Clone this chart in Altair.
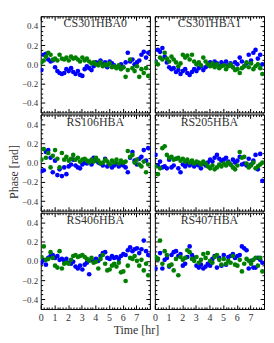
import altair as alt
import pandas as pd

# ---------------- data ----------------
TIME = [0.05, 0.22, 0.38, 0.55, 0.72, 0.88, 1.05, 1.22, 1.38, 1.55, 1.72, 1.88,
        2.05, 2.22, 2.38, 2.55, 2.72, 2.88, 3.05, 3.22, 3.38, 3.55, 3.72, 3.88,
        4.05, 4.22, 4.38, 4.55, 4.72, 4.88, 5.05, 5.22, 5.38, 5.55, 5.72, 5.88,
        6.05, 6.22, 6.38, 6.55, 6.72, 6.88, 7.05, 7.22, 7.38, 7.55, 7.72, 7.88]

STATIONS = ["CS301HBA0", "CS301HBA1", "RS106HBA", "RS205HBA", "RS406HBA", "RS407HBA"]

BLUE_CS301HBA0 = [-0.06, 0.10, 0.11, 0.05, 0.03, 0.04, -0.03, -0.07, -0.09, -0.10,
                  -0.09, -0.05, -0.07, -0.04, -0.08, -0.10, -0.07, -0.11, -0.12, -0.05,
                  -0.02, -0.04, -0.06, -0.02, 0.02, 0.01, 0.04, 0.00, 0.02, -0.03,
                  0.03, 0.01, -0.01, -0.03, -0.02, 0.00, -0.03, 0.02, 0.12, 0.03,
                  0.05, 0.00, 0.02, 0.04, 0.10, 0.13, 0.07, 0.12]
GREEN_CS301HBA0 = [0.02, 0.04, 0.08, 0.12, 0.10, 0.05, 0.06, 0.04, 0.10, 0.06,
                   0.05, 0.07, 0.04, 0.08, 0.06, 0.07, 0.05, 0.03, 0.07, 0.04,
                   0.06, 0.03, 0.01, 0.02, 0.00, -0.01, 0.02, -0.02, 0.00, -0.01,
                   0.01, -0.03, -0.02, -0.04, -0.01, -0.05, -0.03, -0.13, -0.06, 0.05,
                   -0.04, -0.07, -0.02, -0.13, -0.05, -0.09, -0.04, -0.12]

BLUE_CS301HBA1 = [0.03, 0.15, 0.13, 0.17, 0.08, 0.02, -0.03, -0.05, -0.04, -0.08,
                  -0.06, -0.10, -0.07, -0.05, -0.09, -0.11, -0.08, -0.05, -0.07, -0.04,
                  -0.02, -0.06, -0.03, -0.01, 0.02, 0.00, 0.03, 0.01, -0.02, 0.02,
                  0.00, 0.03, -0.01, 0.01, -0.03, 0.02, 0.00, 0.07, 0.03, -0.02,
                  0.01, 0.10, 0.04, 0.12, 0.15, 0.06, 0.10, 0.00]
GREEN_CS301HBA1 = [0.02, 0.00, 0.07, 0.05, 0.12, 0.06, 0.03, 0.08, 0.05, 0.02,
                   -0.02, 0.01, 0.10, 0.07, 0.09, 0.05, 0.10, 0.03, 0.00, 0.02,
                   -0.01, 0.07, 0.03, 0.00, -0.02, 0.01, -0.03, 0.00, -0.04, -0.02,
                   -0.01, -0.05, -0.02, 0.00, -0.03, -0.06, -0.05, -0.09, -0.04, -0.02,
                   0.02, -0.03, 0.01, -0.05, -0.02, 0.00, -0.04, -0.10]

BLUE_RS106HBA = [-0.09, -0.08, 0.11, 0.13, 0.05, -0.10, 0.02, -0.13, -0.07, -0.14,
                 -0.05, -0.12, -0.04, -0.02, 0.03, -0.03, -0.05, -0.06, -0.02, 0.00,
                 -0.01, 0.01, -0.02, 0.05, 0.02, 0.00, -0.01, -0.03, 0.04, -0.04,
                 -0.02, -0.05, -0.03, -0.01, -0.04, -0.02, -0.03, -0.05, -0.10, 0.05,
                 0.11, 0.02, -0.02, 0.04, 0.06, 0.13, 0.02, 0.15]
GREEN_RS106HBA = [0.03, 0.14, 0.05, 0.10, -0.05, 0.07, 0.13, 0.04, -0.05, 0.10,
                  0.03, 0.06, 0.02, 0.04, 0.08, 0.03, 0.05, 0.01, 0.03, 0.04,
                  0.02, 0.00, 0.03, 0.01, 0.05, 0.02, -0.01, 0.00, 0.03, 0.01,
                  -0.02, 0.02, 0.00, 0.03, -0.01, 0.02, 0.00, 0.01, 0.12, 0.06,
                  0.08, 0.00, 0.03, -0.02, -0.04, 0.01, -0.10, -0.02]

BLUE_RS205HBA = [0.08, -0.03, 0.01, -0.05, -0.04, -0.06, 0.03, -0.05, -0.03, 0.04,
                 -0.06, -0.10, -0.02, -0.04, -0.01, -0.03, 0.00, -0.04, -0.02, -0.03,
                 -0.06, -0.01, -0.03, 0.00, 0.03, 0.01, 0.05, 0.08, 0.04, 0.02,
                 0.03, 0.05, 0.01, -0.02, 0.03, 0.00, 0.02, 0.06, -0.02, -0.01,
                 -0.03, 0.04, -0.02, 0.02, 0.08, -0.07, 0.09, -0.19]
GREEN_RS205HBA = [-0.04, -0.12, -0.06, 0.15, 0.17, 0.08, 0.05, 0.06, 0.03, 0.04,
                  0.05, 0.02, 0.04, 0.01, 0.03, 0.00, 0.02, -0.01, 0.01, 0.00,
                  -0.02, 0.01, -0.01, -0.04, -0.06, -0.03, -0.07, -0.05, -0.02, -0.04,
                  -0.01, -0.03, 0.00, -0.02, -0.05, -0.07, -0.03, 0.11, 0.05, 0.06,
                  -0.01, -0.05, -0.03, 0.00, -0.06, -0.04, -0.02, 0.00]

BLUE_RS406HBA = [-0.02, 0.01, -0.04, 0.03, 0.05, 0.06, 0.03, 0.05, 0.01, 0.02,
                 0.00, 0.02, -0.02, -0.03, -0.01, -0.06, -0.08, -0.05, -0.09, -0.04,
                 -0.02, -0.14, 0.01, -0.01, 0.02, 0.00, 0.05, 0.08, 0.09, 0.03,
                 0.02, 0.05, 0.03, 0.04, 0.02, 0.05, 0.07, 0.06, 0.11, 0.14,
                 0.10, 0.12, 0.13, 0.08, 0.12, 0.21, 0.10, 0.06]
GREEN_RS406HBA = [0.04, 0.15, 0.01, 0.02, 0.09, 0.03, -0.05, -0.07, 0.10, -0.08,
                  -0.03, -0.02, -0.03, 0.01, 0.05, 0.06, 0.04, 0.05, 0.06, 0.04,
                  0.02, 0.00, 0.03, -0.02, -0.01, -0.08, 0.02, 0.06, -0.03, -0.10,
                  -0.09, -0.05, -0.03, -0.06, -0.02, -0.12, -0.11, -0.21, -0.05, 0.03,
                  0.02, 0.05, 0.00, -0.05, 0.01, -0.10, -0.03, -0.15]

BLUE_RS407HBA = [-0.08, 0.02, 0.08, -0.08, 0.01, 0.03, -0.06, 0.06, 0.09, 0.10,
                 0.05, 0.07, -0.05, -0.03, 0.04, 0.15, 0.06, 0.03, -0.05, -0.07,
                 -0.04, -0.08, -0.06, -0.03, -0.05, 0.02, 0.05, -0.07, 0.03, -0.05,
                 0.06, -0.04, 0.04, 0.05, 0.07, 0.03, 0.05, 0.06, 0.15, 0.13,
                 0.11, -0.08, 0.00, -0.07, -0.07, 0.03, 0.01, -0.02]
GREEN_RS407HBA = [0.04, 0.02, 0.21, -0.03, 0.10, 0.06, -0.05, -0.04, -0.10, 0.02,
                  -0.15, 0.04, 0.01, 0.03, 0.11, 0.09, 0.02, 0.00, 0.04, -0.02,
                  0.01, 0.07, 0.03, 0.08, 0.00, -0.02, 0.04, 0.06, 0.01, -0.04,
                  0.02, -0.03, 0.00, -0.02, 0.05, -0.04, -0.05, 0.01, -0.11, -0.03,
                  0.02, 0.00, -0.03, 0.01, 0.03, -0.05, 0.03, -0.11]

X_LABELS = [0, 1, 2, 3, 4, 5, 6, 7]
Y_LABELS = [-0.4, -0.2, 0.0, 0.2, 0.4]

SERIES = {
    "CS301HBA0": (BLUE_CS301HBA0, GREEN_CS301HBA0),
    "CS301HBA1": (BLUE_CS301HBA1, GREEN_CS301HBA1),
    "RS106HBA": (BLUE_RS106HBA, GREEN_RS106HBA),
    "RS205HBA": (BLUE_RS205HBA, GREEN_RS205HBA),
    "RS406HBA": (BLUE_RS406HBA, GREEN_RS406HBA),
    "RS407HBA": (BLUE_RS407HBA, GREEN_RS407HBA),
}

# ---------------- style ----------------
W, H = 110, 97
FONT = "Liberation Serif"
TXT = "#333333"
X_MINOR = [round(i * 0.2, 2) for i in range(41)]
Y_MINOR = [round(-0.5 + i * 0.05, 2) for i in range(21)]
TS_X = {"condition": {"test": "abs(datum.value - round(datum.value)) < 0.001", "value": 4}, "value": 2}
TS_Y = {"condition": {"test": "abs(datum.value * 5 - round(datum.value * 5)) < 0.001", "value": 4}, "value": 2}


def panel(name, left, bottom, ytitle=False):
    blue, green = SERIES[name]
    df = pd.DataFrame({
        "t": TIME + TIME,
        "phase": blue + green,
        "series": ["b"] * len(blue) + ["g"] * len(green),
    })
    xs = alt.Scale(domain=[0, 8], nice=False, zero=False)
    ys = alt.Scale(domain=[-0.5, 0.5], nice=False, zero=False)

    xax = alt.Axis(values=X_LABELS, format="d", labels=bottom, ticks=False, domain=False,
                   grid=False, title=None, labelPadding=4, labelFlush=False,
                   labelFont=FONT, labelFontSize=10, labelColor=TXT,
                   minExtent=0)
    ykw = dict(values=Y_LABELS, format=".1f", labels=left, ticks=False, domain=False,
               grid=False, labelPadding=3, labelFont=FONT, labelFontSize=9, labelColor=TXT,
               minExtent=0)
    if ytitle:
        yax = alt.Axis(title="Phase [rad]", titleFont=FONT, titleFontSize=12,
                       titleFontWeight="normal", titleColor=TXT, titlePadding=1,
                       titleY=57.5, **ykw)
    else:
        yax = alt.Axis(title=None, **ykw)

    pts = alt.Chart(df).mark_circle(size=22, opacity=1, clip=True).encode(
        x=alt.X("t:Q", scale=xs, axis=xax),
        y=alt.Y("phase:Q", scale=ys, axis=yax),
        color=alt.Color("series:N", scale=alt.Scale(domain=["b", "g"], range=["#0000ff", "#008000"]),
                        legend=None),
    )

    tick_common = dict(labels=False, domain=False, grid=False, title=None,
                       tickColor="black", tickWidth=1, minExtent=0, maxExtent=0)
    # ticks pointing inwards from the bottom and left edges
    inv1 = alt.Chart(df).mark_point(opacity=0).encode(
        x=alt.X("t:Q", scale=xs, axis=alt.Axis(orient="top", offset=-H, values=X_MINOR,
                                                tickSize=TS_X, **tick_common)),
        y=alt.Y("phase:Q", scale=ys, axis=alt.Axis(orient="right", offset=-W, values=Y_MINOR,
                                                    tickSize=TS_Y, **tick_common)),
    )
    # ticks pointing inwards from the top and right edges
    inv2 = alt.Chart(df).mark_point(opacity=0).encode(
        x=alt.X("t:Q", scale=xs, axis=alt.Axis(orient="bottom", offset=-H, values=X_MINOR,
                                                tickSize=TS_X, **tick_common)),
        y=alt.Y("phase:Q", scale=ys, axis=alt.Axis(orient="left", offset=-W, values=Y_MINOR,
                                                    tickSize=TS_Y, **tick_common)),
    )
    label = alt.Chart(pd.DataFrame({"name": [name]})).mark_text(
        font=FONT, fontSize=12, baseline="middle", align="center", color=TXT
    ).encode(
        x=alt.XDatum(4, scale=xs, axis=None),
        y=alt.YDatum(0.425, scale=ys, axis=None),
        text="name:N",
    )
    return alt.layer(pts, inv1, inv2, label).resolve_axis(
        x="independent", y="independent").properties(width=W, height=H)


row1 = alt.hconcat(panel("CS301HBA0", True, False), panel("CS301HBA1", False, False), spacing=0)
row2 = alt.hconcat(panel("RS106HBA", True, False, ytitle=True), panel("RS205HBA", False, False), spacing=0)
row3 = alt.hconcat(panel("RS406HBA", True, True), panel("RS407HBA", False, True), spacing=0)

chart = alt.vconcat(row1, row2, row3, spacing=0).properties(
    title=alt.TitleParams("Time [hr]", orient="bottom", anchor="middle", font=FONT,
                          fontSize=12, fontWeight="normal", color=TXT, offset=2),
    padding={"left": -1, "top": 6, "right": 0, "bottom": 0},
).configure_view(stroke="black", strokeWidth=1).configure_concat(spacing=0)

chart.save("out.html", embed_options={"renderer": "svg", "actions": False})
